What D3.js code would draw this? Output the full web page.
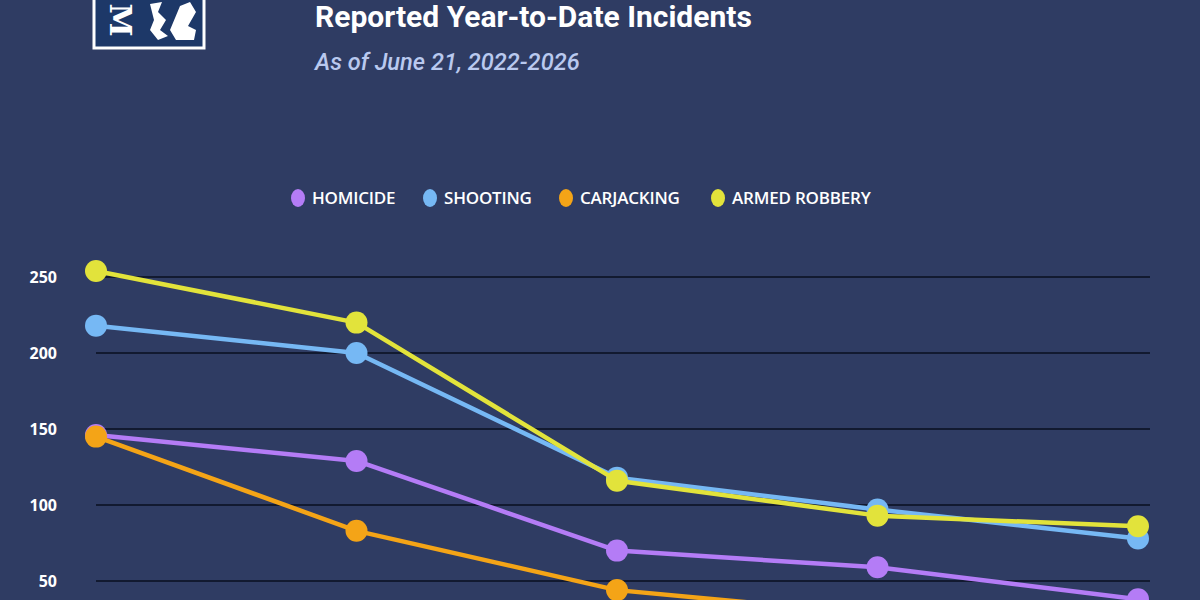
<!DOCTYPE html>
<html>
<head>
<meta charset="utf-8">
<script src="https://cdn.jsdelivr.net/npm/d3@7"></script>
<style>
  html, body { margin: 0; padding: 0; background: #2f3c63; }
  svg { display: block; }
</style>
</head>
<body>
<svg id="chart"></svg>
<script>
const years = ['2022', '2023', '2024', '2025', '2026'];
const homicide = [146, 129, 70, 59, 38];
const shooting = [218, 200, 118, 97, 78];
const carjacking = [145, 83, 44, 28, 30];
const armedRobbery = [254, 220, 116, 93, 86];
const seriesNames = ['HOMICIDE', 'SHOOTING', 'CARJACKING', 'ARMED ROBBERY'];
const seriesColors = ['#b47cf6', '#76b8f4', '#f4a417', '#e2e33b'];
const yTicks = [50, 100, 150, 200, 250];

const width = 1200, height = 600;
const svg = d3.select('#chart').attr('width', width).attr('height', height);

svg.append('rect').attr('width', width).attr('height', height).attr('fill', '#2f3c63');

// logo (rough)
const logo = svg.append('g');
logo.append('rect').attr('x', 94).attr('y', -6).attr('width', 110).attr('height', 54)
  .attr('fill', '#1d3868').attr('stroke', '#fff').attr('stroke-width', 3);
logo.append('text').attr('transform', 'translate(110,20) rotate(90)')
  .attr('text-anchor', 'middle').attr('fill', '#fff')
  .style('font', 'bold 30px "DejaVu Serif"').text('M');
logo.append('path')
  .attr('d', 'M150,4 L162,2 L158,12 L166,20 L160,30 L168,36 L158,40 L150,30 L154,20 Z M170,30 L180,6 L190,2 L196,12 L188,26 L196,30 L194,40 L176,40 Z')
  .attr('fill', '#fff');

// titles
svg.append('text').attr('x', 315).attr('y', 27).attr('fill', '#fff')
  .style('font', 'bold 30px Roboto').text('Reported Year-to-Date Incidents');
svg.append('text').attr('x', 315).attr('y', 70).attr('fill', '#b9c9ef')
  .style('font', 'italic 500 23.6px Roboto').text('As of June 21, 2022-2026');

// legend
const legendX = [298, 430, 566, 718];
const legend = svg.append('g');
seriesNames.forEach((name, i) => {
  legend.append('ellipse').attr('cx', legendX[i]).attr('cy', 198).attr('rx', 7).attr('ry', 9)
    .attr('fill', seriesColors[i]);
  legend.append('text').attr('x', legendX[i] + 14).attr('y', 204).attr('fill', '#fff')
    .style('font', '600 17px "Open Sans"').style('letter-spacing', '-0.2px').text(name);
});

const x = d3.scalePoint().domain(years).range([96, 1138]);
const y = d3.scaleLinear().domain([0, 250]).range([657, 277]);

// grid
svg.append('g').selectAll('line').data(yTicks).enter().append('line')
  .attr('x1', 96).attr('x2', 1150)
  .attr('y1', d => y(d)).attr('y2', d => y(d))
  .attr('stroke', '#0a0f1f').attr('stroke-width', 1.3);

// y axis
const yAxis = svg.append('g').attr('transform', 'translate(57,0)')
  .call(d3.axisLeft(y).tickValues(yTicks).tickSize(0).tickPadding(0));
yAxis.select('.domain').remove();
yAxis.selectAll('text').attr('fill', '#fff').attr('dy', '0.35em')
  .style('font', 'bold 16px "Noto Sans"');

const allSeries = [homicide, shooting, carjacking, armedRobbery];
const line = d3.line().x((d, i) => x(years[i])).y(d => y(d));

allSeries.forEach((vals, s) => {
  const g = svg.append('g');
  g.append('path').datum(vals).attr('d', line)
    .attr('fill', 'none').attr('stroke', seriesColors[s]).attr('stroke-width', 4.5)
    .attr('stroke-linejoin', 'round');
  g.selectAll('circle').data(vals).enter().append('circle')
    .attr('cx', (d, i) => x(years[i])).attr('cy', d => y(d)).attr('r', 11)
    .attr('fill', seriesColors[s]);
});
</script>
</body>
</html>
